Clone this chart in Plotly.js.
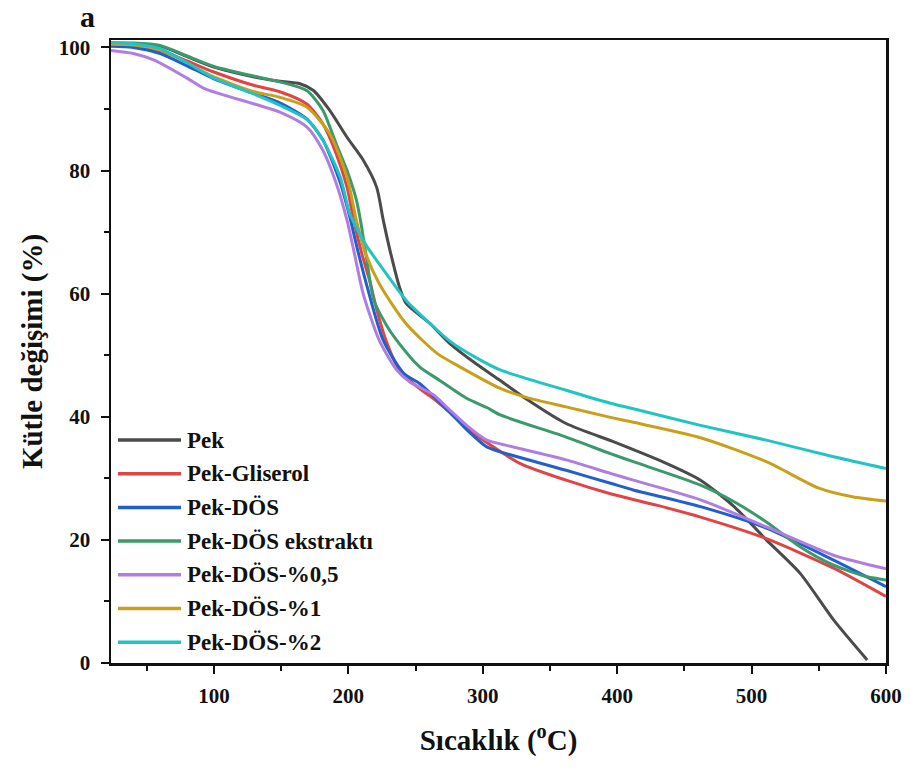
<!DOCTYPE html>
<html>
<head>
<meta charset="utf-8">
<script src="https://cdn.plot.ly/plotly-3.0.1.min.js"></script>
<style>html,body{margin:0;padding:0;background:#fff;}#chart{width:911px;height:773px;}</style>
</head>
<body>
<div id="chart"></div>
<script>
// ---- data ----
const seriesNames = ["Pek", "Pek-Gliserol", "Pek-DÖS", "Pek-DÖS ekstraktı", "Pek-DÖS-%0,5", "Pek-DÖS-%1", "Pek-DÖS-%2"];

const xPek = [23, 40, 60, 80, 100, 130, 149, 164, 174, 186, 199, 211, 221, 226, 231, 238, 243, 261, 276, 295, 313, 333, 362, 399, 437, 462, 487, 511, 536, 561, 586];
const yPek = [100.6, 100.6, 100.2, 98.5, 96.8, 95.2, 94.5, 94.1, 93.0, 89.8, 85.4, 81.7, 77.3, 71.9, 67.0, 61.1, 58.4, 55.1, 51.8, 48.6, 45.9, 42.8, 38.9, 35.8, 32.4, 29.7, 25.4, 20.0, 14.6, 7.0, 0.5];

const xGliserol = [23, 40, 60, 80, 100, 130, 149, 169, 181, 191, 199, 204, 210, 216, 221, 228, 238, 251, 263, 276, 288, 303, 328, 362, 395, 430, 462, 511, 561, 600];
const yGliserol = [100.3, 100.2, 99.5, 97.8, 96.0, 93.8, 92.8, 90.8, 87.6, 82.7, 77.3, 71.9, 66.5, 62.0, 57.5, 52.4, 47.6, 44.9, 43.0, 40.6, 38.2, 35.8, 32.4, 29.7, 27.5, 25.6, 23.7, 20.2, 15.4, 10.8];

const xDOS = [23, 40, 60, 80, 100, 130, 149, 169, 181, 194, 201, 207, 214, 226, 241, 253, 263, 276, 288, 303, 313, 362, 395, 412, 462, 511, 561, 600];
const yDOS = [100.2, 100.0, 99.0, 97.0, 94.9, 92.5, 91.0, 88.4, 85.0, 78.0, 72.5, 67.0, 61.1, 52.4, 47.1, 45.4, 43.4, 40.6, 37.9, 35.1, 34.3, 31.3, 29.2, 28.1, 25.4, 21.9, 16.7, 12.4];

const xEkstrakt = [23, 40, 60, 80, 100, 130, 149, 169, 181, 191, 199, 206, 209, 213, 219, 228, 236, 253, 268, 288, 303, 313, 362, 395, 412, 462, 487, 511, 536, 561, 586, 600];
const yEkstrakt = [100.7, 100.7, 100.3, 98.6, 96.9, 95.3, 94.4, 93.0, 89.8, 84.3, 80.0, 75.2, 71.9, 66.5, 58.9, 55.0, 52.4, 48.1, 45.9, 43.0, 41.5, 40.3, 36.7, 34.0, 32.7, 28.9, 26.2, 22.9, 18.9, 15.9, 14.0, 13.5];

const xDOS05 = [23, 40, 56, 80, 93, 130, 149, 169, 181, 191, 199, 205, 211, 223, 236, 246, 263, 276, 288, 303, 313, 362, 395, 412, 462, 511, 561, 600];
const yDOS05 = [99.5, 99.0, 97.9, 95.0, 93.3, 90.8, 89.5, 87.1, 83.3, 77.9, 71.9, 66.0, 60.0, 52.4, 47.6, 45.6, 43.6, 41.0, 38.6, 36.2, 35.6, 33.0, 30.8, 29.7, 26.5, 22.1, 17.5, 15.3];

const xDOS1 = [23, 40, 60, 80, 100, 130, 149, 169, 186, 199, 206, 212, 223, 243, 266, 283, 313, 333, 362, 395, 412, 462, 511, 550, 575, 600];
const yDOS1 = [100.5, 100.4, 99.6, 97.5, 95.2, 92.8, 91.9, 90.3, 86.0, 78.9, 71.9, 67.0, 61.6, 55.1, 50.3, 48.1, 44.6, 43.1, 41.6, 39.9, 39.1, 36.6, 32.7, 28.4, 27.0, 26.3];

const xDOS2 = [23, 40, 60, 80, 100, 130, 149, 169, 181, 194, 201, 207, 214, 228, 243, 261, 276, 295, 313, 362, 395, 412, 462, 511, 561, 600];
const yDOS2 = [100.8, 100.6, 99.8, 97.5, 95.0, 92.4, 90.6, 88.3, 84.9, 78.9, 73.0, 70.3, 67.6, 63.3, 58.9, 55.1, 52.2, 49.6, 47.6, 44.3, 42.2, 41.3, 38.6, 36.2, 33.5, 31.6];

const xTickVals = [100, 200, 300, 400, 500, 600];
const yTickVals = [0, 20, 40, 60, 80, 100];

// ---- styling ----
const colors = ["#4b4b4b", "#e04444", "#2160cc", "#3a9a6c", "#b07ee0", "#c9a01c", "#22c3c3"];
const xs = [xPek, xGliserol, xDOS, xEkstrakt, xDOS05, xDOS1, xDOS2];
const ys = [yPek, yGliserol, yDOS, yEkstrakt, yDOS05, yDOS1, yDOS2];

const FONT = "Liberation Serif, Times New Roman, serif";

const traces = seriesNames.map((n, i) => ({
  type: "scatter", mode: "lines", name: n,
  x: xs[i], y: ys[i],
  line: {color: colors[i], width: 3, shape: "spline", smoothing: 0.7},
  showlegend: false, hoverinfo: "skip"
}));

// manual legend (long line samples like the reference)
const shapes = [];
const annotations = [];
const legTop = 440, legStep = 33.7;
seriesNames.forEach((n, i) => {
  const py = legTop + i * legStep;
  const yp = (663 - py) / 623;
  shapes.push({type: "line", xref: "paper", yref: "paper",
    x0: (118 - 111) / 775, x1: (181 - 111) / 775, y0: yp, y1: yp,
    line: {color: colors[i], width: 3.5}});
  annotations.push({xref: "paper", yref: "paper", x: (185 - 111) / 775, y: yp,
    xanchor: "left", yanchor: "middle", showarrow: false, text: "<b>" + n + "</b>",
    font: {family: FONT, size: 23, color: "#111"}});
});
annotations.push({xref: "paper", yref: "paper", x: (87 - 111) / 775, y: (663 - 16) / 623,
  xanchor: "center", yanchor: "middle", showarrow: false, text: "<b>a</b>",
  font: {family: FONT, size: 30, color: "#111"}});

const layout = {
  width: 911, height: 773,
  margin: {l: 111, r: 25, t: 40, b: 110},
  paper_bgcolor: "#fff", plot_bgcolor: "#fff",
  font: {family: FONT, color: "#111"},
  xaxis: {
    range: [23.4, 600], tickvals: xTickVals, ticktext: xTickVals.map(v => "<b>" + v + "</b>"),
    ticks: "outside", ticklen: 8, tickwidth: 2, tickcolor: "#111",
    minor: {dtick: 50, tick0: 0, ticks: "outside", ticklen: 5, tickwidth: 2, tickcolor: "#111"},
    showline: true, linewidth: 2.5, linecolor: "#111", mirror: true,
    showgrid: false, zeroline: false,
    tickfont: {family: FONT, size: 21, color: "#111"}, ticklabelstandoff: 4,
    title: {text: "<b>Sıcaklık (<sup>o</sup>C)</b>", font: {family: FONT, size: 29, color: "#111"}, standoff: 23},
    automargin: false
  },
  yaxis: {
    range: [0, 101.2], tickvals: yTickVals, ticktext: yTickVals.map(v => "<b>" + v + "</b>"),
    ticks: "outside", ticklen: 8, tickwidth: 2, tickcolor: "#111",
    minor: {dtick: 10, tick0: 0, ticks: "outside", ticklen: 5, tickwidth: 2, tickcolor: "#111"},
    showline: true, linewidth: 2.5, linecolor: "#111", mirror: true,
    showgrid: false, zeroline: false,
    tickfont: {family: FONT, size: 21, color: "#111"}, ticklabelstandoff: 6,
    title: {text: "<b>Kütle değişimi (%)</b>", font: {family: FONT, size: 29, color: "#111"}, standoff: 8},
    automargin: false
  },
  shapes: shapes,
  annotations: annotations,
  showlegend: false
};

Plotly.newPlot("chart", traces, layout, {displayModeBar: false, staticPlot: true});
</script>
</body>
</html>
